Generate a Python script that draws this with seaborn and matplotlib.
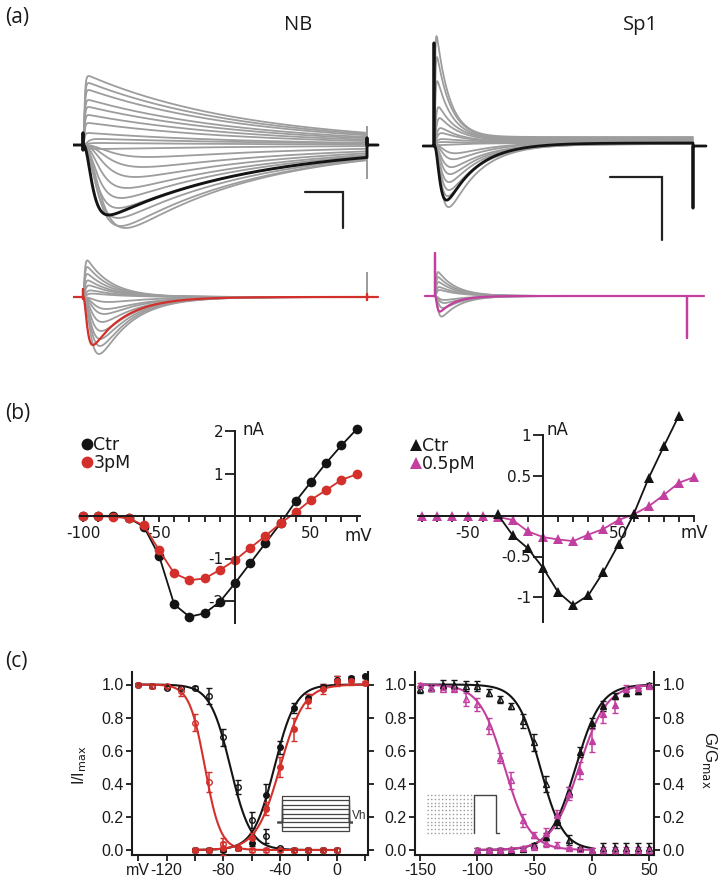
import numpy as np
import pandas as pd
import matplotlib
matplotlib.use('Agg')
import matplotlib.pyplot as plt
from matplotlib.lines import Line2D
import seaborn as sns

sns.set_style('white')
plt.rcParams['font.family'] = ['Liberation Sans', 'DejaVu Sans']
plt.rcParams['axes.unicode_minus'] = False
plt.rcParams['axes.edgecolor'] = '#1a1a1a'
plt.rcParams['xtick.color'] = '#1a1a1a'
plt.rcParams['ytick.color'] = '#1a1a1a'
plt.rcParams['text.color'] = '#1a1a1a'

W, H = 722, 889
INK = '#141414'
GRAY = '#9d9d9d'
RED = '#d3302c'
MAG = '#c23f9f'

# ---------------- (a) current sweeps ----------------
# per sweep: peak current (nA), activation tau (ms), inactivation tau (ms), steady current (nA)
nb_amp = [3.45, 3.1, 2.75, 2.25, 1.9, 1.5, 1.1, 0.6, 0.3, 0.1, -0.2,
          -0.6, -1.1, -1.6, -2.15, -2.65, -3.15, -3.65, -4.05, -4.15]
nb_tact = [0.9, 0.9, 0.9, 0.9, 0.9, 0.9, 0.9, 0.9, 3, 3, 3,
           20, 18, 15, 12, 10, 9, 9, 10, 12]
nb_tinact = [160, 160, 160, 160, 160, 160, 160, 160, 200, 200, 200,
             170, 165, 160, 155, 150, 150, 145, 140, 135]
nb_steady = [0] * 20
nb_ctr = [-3.5, 6, 146, 0]
nb_dur = 284

sp1_amp = [5.05, 4.05, 2.9, 1.65, 1.15, 0.7, 0.45, 0.15, 0.05, -0.1,
           -0.55, -0.85, -1.2, -1.55, -1.95, -2.3, -2.6, -3.15]
sp1_tact = [0.6, 0.7, 0.8, 1.2, 1.5, 1.8, 2, 2, 2, 2,
            8, 7, 6, 5.5, 5, 5, 4.5, 5]
sp1_tinact = [13, 14, 15, 18, 20, 22, 25, 30, 30, 30,
              40, 38, 36, 34, 33, 32, 31, 30]
sp1_steady = [0.45, 0.4, 0.35, 0.3, 0.25, 0.2, 0.2, 0.2, 0.15, 0.15,
              0.2, 0.2, 0.15, 0.15, 0.15, 0.1, 0.1, 0.1]
sp1_ctr = [-2.85, 4, 30, 0.15]
sp1_dur = 259

nb3_amp = [1.83, 1.5, 1.15, 0.83, 0.58, 0.33, 0.17,
           -0.25, -0.6, -0.85, -1.25, -1.7, -2.1, -2.45, -2.85]
nb3_tact = [1, 1, 1, 1.2, 1.5, 2, 2.5, 10, 9, 8, 7, 6.5, 6, 6, 5.5]
nb3_tinact = [24, 24, 25, 26, 28, 30, 32, 40, 38, 36, 35, 34, 33, 32, 32]
nb3_steady = [0] * 15
nb3_pm = [-2.4, 2.8, 32, 0]
nb3_dur = 284

sp05_amp = [1.2, 0.95, 0.7, 0.45, 0.3, -0.2, -0.35, -0.6, -1.03]
sp05_tact = [0.7, 0.7, 0.8, 1, 1.2, 3, 3, 2.5, 2]
sp05_tinact = [18, 18, 19, 20, 20, 22, 22, 20, 18]
sp05_steady = [0] * 9
sp05_pm = [-0.78, 1.4, 15, 0]
sp05_dur = 252

# capacitive artefacts at step on / off (nA)
nb_on, nb_off, nb_gray_off = [0.6, -0.25], [0.35], [0.9, -1.65]
sp1_on, sp1_off = [5.15], [-3.1]
nb3_on, nb3_off, nb3_gray_off = [0.4, -0.1], [0.15, -0.15], [1.2, -0.15]
sp05_on, sp05_off = [2.15], [-2.1]

# scale bars: start (ms), length (ms), level (nA), height (nA)
nb_bar = [222, 38, -2.35, 1.8]
sp1_bar = [176, 52, -1.55, 3.15]

# ---------------- (b) I-V ----------------
nb_iv_v = [-100, -90, -80, -70, -60, -50, -40, -30, -20, -10,
           0, 10, 20, 30, 40, 50, 60, 70, 80]
nb_iv_ctr = [0.0, 0.0, 0.0, -0.05, -0.25, -0.93, -2.08, -2.37, -2.29, -2.02,
             -1.58, -1.11, -0.64, -0.17, 0.35, 0.8, 1.25, 1.66, 2.04]
nb_iv_3pm = [0.0, 0.0, -0.02, -0.05, -0.22, -0.8, -1.35, -1.51, -1.47, -1.27,
             -1.04, -0.75, -0.47, -0.17, 0.09, 0.38, 0.61, 0.85, 0.98]

sp_iv_v_ctr = [-30, -20, -10, 0, 10, 20, 30, 40, 50, 60, 70, 80, 90]
sp_iv_ctr = [0.02, -0.24, -0.40, -0.64, -0.94, -1.10, -0.98, -0.69, -0.35,
             0.02, 0.47, 0.86, 1.24]
sp_iv_v_pm = [-80, -70, -60, -50, -40, -30, -20, -10, 0, 10,
              20, 30, 40, 50, 60, 70, 80, 90, 100]
sp_iv_pm = [0, 0, 0, 0, 0, -0.01, -0.05, -0.19, -0.26, -0.29,
            -0.31, -0.23, -0.16, -0.05, 0.02, 0.12, 0.26, 0.41, 0.48]

# ---------------- (c) steady-state inactivation / activation ----------------
nb_v_inact = [-140, -130, -120, -110, -100, -90, -80, -70, -60, -50, -40, -30, -20, -10, 0]
nb_ctr_inact = [1.0, 0.99, 0.98, 0.98, 0.98, 0.93, 0.68, 0.38, 0.18, 0.085, 0.01, 0, 0, 0, 0]
nb_ctr_inact_err = [0.01, 0.01, 0.01, 0.01, 0.01, 0.05, 0.05, 0.04, 0.05, 0.04, 0.01, 0.01, 0.01, 0.01, 0.01]
nb_pm_inact = [1.0, 0.99, 0.99, 0.96, 0.77, 0.41, 0.035, 0.01, 0, 0, 0, 0, 0, 0, 0]
nb_pm_inact_err = [0.01, 0.01, 0.01, 0.03, 0.05, 0.06, 0.04, 0.01, 0.01, 0.01, 0.01, 0.01, 0.01, 0.01, 0.01]
nb_v_act = [-100, -90, -80, -70, -60, -50, -40, -30, -20, -10, 0, 10, 20]
nb_ctr_act = [0, 0, 0, 0.01, 0.045, 0.33, 0.62, 0.86, 0.92, 0.985, 1.03, 1.04, 1.05]
nb_ctr_act_err = [0.01, 0.01, 0.01, 0.01, 0.02, 0.07, 0.04, 0.03, 0.02, 0.02, 0.02, 0.01, 0.01]
nb_pm_act = [0, 0, 0.01, 0.01, 0.07, 0.25, 0.5, 0.73, 0.9, 0.975, 1.02, 1.02, 1.01]
nb_pm_act_err = [0.01, 0.01, 0.04, 0.01, 0.03, 0.04, 0.06, 0.07, 0.04, 0.03, 0.03, 0.02, 0.01]

sp_v_inact = [-150, -140, -130, -120, -110, -100, -90, -80, -70, -60, -50,
              -40, -30, -20, -10, 0, 10, 20, 30, 40, 50]
sp_ctr_inact = [0.97, 0.98, 1.0, 1.0, 0.99, 0.99, 0.95, 0.91, 0.87, 0.78, 0.65,
                0.40, 0.17, 0.06, 0.01, 0.0, 0.01, 0.01, 0.01, 0.01, 0.01]
sp_ctr_inact_err = [0.02, 0.02, 0.03, 0.03, 0.03, 0.03, 0.02, 0.02, 0.02, 0.04, 0.05,
                    0.05, 0.04, 0.03, 0.01, 0.01, 0.03, 0.03, 0.03, 0.03, 0.03]
sp_pm_inact = [1.0, 0.98, 0.975, 0.97, 0.91, 0.88, 0.75, 0.555, 0.42, 0.18, 0.09,
               0.04, 0.03, 0.01, 0.005, 0, 0, 0, 0, 0, 0]
sp_pm_inact_err = [0.01, 0.01, 0.01, 0.01, 0.04, 0.04, 0.05, 0.03, 0.05, 0.04, 0.02,
                   0.02, 0.02, 0.01, 0.01, 0.01, 0.02, 0.02, 0.02, 0.02, 0.02]
sp_v_act = [-100, -90, -80, -70, -60, -50, -40, -30, -20, -10, 0, 10, 20, 30, 40, 50]
sp_ctr_act = [0, 0, 0, 0, 0.005, 0.03, 0.08, 0.18, 0.35, 0.59, 0.765, 0.87, 0.93, 0.95, 0.96, 1.0]
sp_ctr_act_err = [0.01, 0.01, 0.01, 0.01, 0.01, 0.01, 0.02, 0.02, 0.03, 0.03, 0.03, 0.03, 0.02, 0.02, 0.02, 0.01]
sp_pm_act = [0, 0, 0, 0.005, 0.01, 0.02, 0.1, 0.21, 0.34, 0.48, 0.66, 0.82, 0.875, 0.97, 0.98, 0.99]
sp_pm_act_err = [0.01, 0.01, 0.01, 0.01, 0.01, 0.01, 0.03, 0.03, 0.04, 0.05, 0.07, 0.05, 0.05, 0.03, 0.02, 0.01]

# Boltzmann fits: V1/2 (mV), slope (mV; negative = activation)
nb_fit_ctr_inact, nb_fit_pm_inact = [-75, 7.2], [-93, 5.5]
nb_fit_ctr_act, nb_fit_pm_act = [-44, -7.5], [-40, -8.5]
sp_fit_ctr_inact, sp_fit_pm_inact = [-45, 10], [-76, 11]
sp_fit_ctr_act, sp_fit_pm_act = [-14, -11], [-11, -12]

# voltage protocols drawn as insets (mV)
nb_prepulse = [0, -15, -30, -45, -60, -75, -90, -105, -120]
nb_vh = -90
sp_prepulse = [0, -15, -30, -45, -60, -75, -90, -105, -120, -135, -150]
sp_test = 0

fig = plt.figure(figsize=(W / 100, H / 100), dpi=100)


def place(x0, xs, xlim, y0, ys, ylim):
    # axes whose data origin sits at pixel (x0, y0) of the reference layout
    left, right = x0 + xs * xlim[0], x0 + xs * xlim[1]
    top, bottom = y0 - ys * ylim[1], y0 - ys * ylim[0]
    ax = fig.add_axes([left / W, 1 - bottom / H, (right - left) / W, (bottom - top) / H])
    ax.patch.set_alpha(0)
    return ax, xlim, ylim


STEP = 0.25


def sweep(t, amp, t_act, t_inact, steady=0.0):
    m = 1 - np.exp(-t / t_act)
    shape = m ** 3 * np.exp(-t / t_inact)
    return amp * shape / shape.max() + steady * m


def sweep_table(amps, t_act, t_inact, steady, dur, off):
    t = np.arange(0, dur + STEP, STEP)
    parts = []
    for k in range(len(amps)):
        i = sweep(t, amps[k], t_act[k], t_inact[k], steady[k])
        parts.append(pd.DataFrame({'t': np.r_[t, [dur] * len(off)],
                                   'I': np.r_[i, off], 'sweep': k}))
    return pd.concat(parts, ignore_index=True)


def marked_sweep(params, dur, pre, post, on, off):
    amp, t_act, t_inact, steady = params
    t = np.arange(0, dur + STEP, STEP)
    i = sweep(t, amp, t_act, t_inact, steady)
    tt = np.r_[pre, 0, [0] * len(on), t, [dur] * len(off), dur, post]
    ii = np.r_[0, 0, on, i, off, 0, 0]
    return pd.DataFrame({'t': tt, 'I': ii})


def trace_panel(axl, table, marked, color, lw, bar=None):
    ax, xlim, ylim = axl
    sns.lineplot(data=table, x='t', y='I', units='sweep', estimator=None, sort=False,
                 color=GRAY, lw=1.3, ax=ax, legend=False)
    sns.lineplot(data=marked, x='t', y='I', estimator=None, sort=False,
                 color=color, lw=lw, ax=ax)
    if bar is not None:
        t0, tl, i0, ih = bar
        ax.plot([t0, t0 + tl, t0 + tl], [i0, i0, i0 - ih], color='#222222', lw=1.6,
                solid_joinstyle='miter')
    ax.set_xlim(xlim)
    ax.set_ylim(ylim)
    ax.set_axis_off()


trace_panel(place(83, 1, (-10, 297), 145, 20, (-4.8, 5.6)),
            sweep_table(nb_amp, nb_tact, nb_tinact, nb_steady, nb_dur, nb_gray_off),
            marked_sweep(nb_ctr, nb_dur, -10, nb_dur + 11, nb_on, nb_off), INK, 2.1, nb_bar)
trace_panel(place(434, 1, (-12, 274), 146, 20, (-5.0, 5.7)),
            sweep_table(sp1_amp, sp1_tact, sp1_tinact, sp1_steady, sp1_dur, []),
            marked_sweep(sp1_ctr, sp1_dur, -11, sp1_dur + 13, sp1_on, sp1_off), INK, 2.0, sp1_bar)
trace_panel(place(83, 1, (-10, 297), 297, 20, (-3.2, 2.2)),
            sweep_table(nb3_amp, nb3_tact, nb3_tinact, nb3_steady, nb3_dur, nb3_gray_off),
            marked_sweep(nb3_pm, nb3_dur, -10, nb3_dur + 11, nb3_on, nb3_off), RED, 1.6)
trace_panel(place(435, 1, (-11, 271), 296, 20, (-2.4, 2.4)),
            sweep_table(sp05_amp, sp05_tact, sp05_tinact, sp05_steady, sp05_dur, []),
            marked_sweep(sp05_pm, sp05_dur, -10, sp05_dur + 17, sp05_on, sp05_off), MAG, 1.6)

fig.text(5 / W, 1 - 18 / H, '(a)', family='Open Sans', size=15, va='center')
fig.text(298 / W, 1 - 25 / H, 'NB', family='Open Sans', size=14.5, va='center', ha='center')
fig.text(640 / W, 1 - 25 / H, 'Sp1', family='Open Sans', size=14.5, va='center', ha='center')
fig.text(5 / W, 1 - 414 / H, '(b)', family='Open Sans', size=15, va='center')
fig.text(5 / W, 1 - 662 / H, '(c)', family='Open Sans', size=15, va='center')


# ---------------- (b) ----------------
def iv_panel(axl, series, xmajor, xminor, yticks, legend, leg_xy, units_xy):
    ax, xlim, ylim = axl
    for v, i, color, marker, ms in series:
        sns.lineplot(x=v, y=i, color=color, marker=marker, markersize=ms, markeredgewidth=0,
                     lw=1.3, errorbar=None, ax=ax, clip_on=False)
    ax.spines[['top', 'right']].set_visible(False)
    ax.spines['left'].set_position(('data', 0))
    ax.spines['bottom'].set_position(('data', 0))
    for s in ('left', 'bottom'):
        ax.spines[s].set_linewidth(1.4)
    ax.set_xticks(xmajor, [str(x) for x in xmajor])
    ax.set_xticks(xminor, minor=True)
    ax.set_yticks(yticks, [f'{y:g}' for y in yticks])
    ax.tick_params(axis='x', which='both', bottom=True, direction='out', length=4.5,
                   width=1.3, pad=3, labelsize=11)
    ax.tick_params(axis='y', left=True, direction='out', length=7.5, width=1.3,
                   pad=1, labelsize=11)
    for lab in ax.get_xticklabels() + ax.get_yticklabels():
        lab.set_fontfamily('DejaVu Sans')
    ax.set_xlim(xlim)
    ax.set_ylim(ylim)
    handles = [Line2D([], [], ls='none', marker=m, ms=ms + 1.5, mew=0, color=c)
               for c, m, ms, _ in legend]
    ax.legend(handles, [lab for _, _, _, lab in legend], loc='upper left',
              bbox_to_anchor=(leg_xy[0] / W, 1 - leg_xy[1] / H), bbox_transform=fig.transFigure,
              frameon=False, handlelength=0.55, handletextpad=0.1, labelspacing=0.0,
              borderpad=0, borderaxespad=0, prop={'family': 'DejaVu Sans', 'size': 12.5})
    (nx, ny), (mx, my) = units_xy
    fig.text(nx / W, 1 - ny / H, 'nA', family='DejaVu Sans', size=12, va='center')
    fig.text(mx / W, 1 - my / H, 'mV', family='DejaVu Sans', size=12, va='center')


iv_panel(place(235, 1.52, (-102, 82), 516, 42.5, (-2.52, 2.0)),
         [(nb_iv_v, nb_iv_ctr, INK, 'o', 7), (nb_iv_v, nb_iv_3pm, RED, 'o', 7)],
         [-100, -50, 50], [-90, -80, -70, -60, -40, -30, -20, -10, 10, 20, 30, 40, 60, 70, 80],
         [-2, -1, 1, 2], [(INK, 'o', 7, 'Ctr'), (RED, 'o', 7, '3pM')], (82, 436),
         ((243, 430), (345, 536)))
iv_panel(place(543, 1.51, (-83, 100), 516, 81, (-1.31, 1.0)),
         [(sp_iv_v_pm, sp_iv_pm, MAG, '^', 7), (sp_iv_v_ctr, sp_iv_ctr, INK, '^', 7)],
         [-50, 50], [-80, -70, -60, -40, -30, -20, -10, 10, 20, 30, 40, 60, 70, 80, 90, 100],
         [-1, -0.5, 0.5, 1], [(INK, '^', 7, 'Ctr'), (MAG, '^', 7, '0.5pM')], (411, 437),
         ((546, 430), (680, 533)))


# ---------------- (c) ----------------
def boltz(v, v_half, slope):
    return 1 / (1 + np.exp((v - v_half) / slope))


def gv_panel(axl, points, fits, xt, xl, label_right):
    ax, xlim, ylim = axl
    for v_lo, v_hi, fit, color in fits:
        vg = np.linspace(v_lo, v_hi, 300)
        sns.lineplot(x=vg, y=boltz(vg, *fit), color=color, lw=1.5, ax=ax)
    for v, y, e, color, marker, filled in points:
        ax.errorbar(v, y, yerr=e, fmt=marker, color=color, mfc=color if filled else 'none',
                    mec=color, ms=4, mew=1.0, capsize=2.2, elinewidth=1.1, capthick=1.1,
                    clip_on=False, zorder=3)
    ax.spines['top'].set_visible(False)
    for s in ('left', 'bottom', 'right'):
        ax.spines[s].set_linewidth(1.5)
    ax.set_xticks(xt, xl)
    ax.set_yticks([0, 0.2, 0.4, 0.6, 0.8, 1.0], ['0.0', '0.2', '0.4', '0.6', '0.8', '1.0'])
    ax.tick_params(axis='x', bottom=True, direction='out', length=4, width=1.3, pad=2,
                   labelsize=11.5)
    ax.tick_params(axis='y', left=True, right=True, labelright=label_right, direction='out',
                   length=4.5, width=1.3, pad=1.5, labelsize=11.5)
    ax.set_xlim(xlim)
    ax.set_ylim(ylim)


gv_panel(place(336.7, 1.417, (-144.5, 22.3), 850, 165.5, (-0.03, 1.075)),
         [(nb_v_inact, nb_ctr_inact, nb_ctr_inact_err, INK, 'o', False),
          (nb_v_inact, nb_pm_inact, nb_pm_inact_err, RED, 'o', False),
          (nb_v_act, nb_ctr_act, nb_ctr_act_err, INK, 'o', True),
          (nb_v_act, nb_pm_act, nb_pm_act_err, RED, 'o', True)],
         [(-140, 0, nb_fit_ctr_inact, INK), (-140, 0, nb_fit_pm_inact, RED),
          (-100, 20, nb_fit_ctr_act, INK), (-100, 20, nb_fit_pm_act, RED)],
         [-140, -120, -100, -80, -60, -40, -20, 0, 20],
         ['mV', '-120', '', '-80', '', '-40', '', '0', ''], False)
gv_panel(place(591.7, 1.146, (-154.2, 54.5), 850, 165.5, (-0.03, 1.075)),
         [(sp_v_inact, sp_ctr_inact, sp_ctr_inact_err, INK, '^', False),
          (sp_v_inact, sp_pm_inact, sp_pm_inact_err, MAG, '^', False),
          (sp_v_act, sp_ctr_act, sp_ctr_act_err, INK, '^', True),
          (sp_v_act, sp_pm_act, sp_pm_act_err, MAG, '^', True)],
         [(-150, 0, sp_fit_ctr_inact, INK), (-150, 0, sp_fit_pm_inact, MAG),
          (-100, 50, sp_fit_ctr_act, INK), (-100, 50, sp_fit_pm_act, MAG)],
         [-150, -100, -50, 0, 50], ['-150', '-100', '-50', '0', '50'], True)

fig.text(80 / W, 1 - 765 / H, r'I/I$_{\rm max}$', rotation=90, size=11.5, va='center', ha='center')
fig.text(709 / W, 1 - 760 / H, r'G/G$_{\rm max}$', rotation=270, size=12, va='center', ha='center')

# protocol insets
ax, xlim, ylim = place(282, 1, (-5, 71), 796, 0.2917, (-137, 20))
for lv in nb_prepulse:
    ax.plot([-5, 0, 0, 67, 67, 71], [nb_vh, nb_vh, lv, lv, nb_vh, nb_vh], color='#444444', lw=0.9)
ax.text(70, nb_vh + 22, 'Vh', size=8.5, va='center', ha='left', color='#333333')
ax.set_xlim(xlim)
ax.set_ylim(ylim)
ax.set_axis_off()

ax, xlim, ylim = place(474, 1, (-49, 28), 795, 0.2533, (-170, 20))
for lv in sp_prepulse:
    ax.plot([-47, 0], [lv, lv], color='#9a9a9a', lw=1.0, ls=(0, (1, 1.6)))
hold = sp_prepulse[-1]
ax.plot([0, 0, 22, 22, 25], [hold, sp_test, sp_test, hold, hold], color='#444444', lw=1.0)
ax.set_xlim(xlim)
ax.set_ylim(ylim)
ax.set_axis_off()

fig.savefig('out.png', dpi=100)
